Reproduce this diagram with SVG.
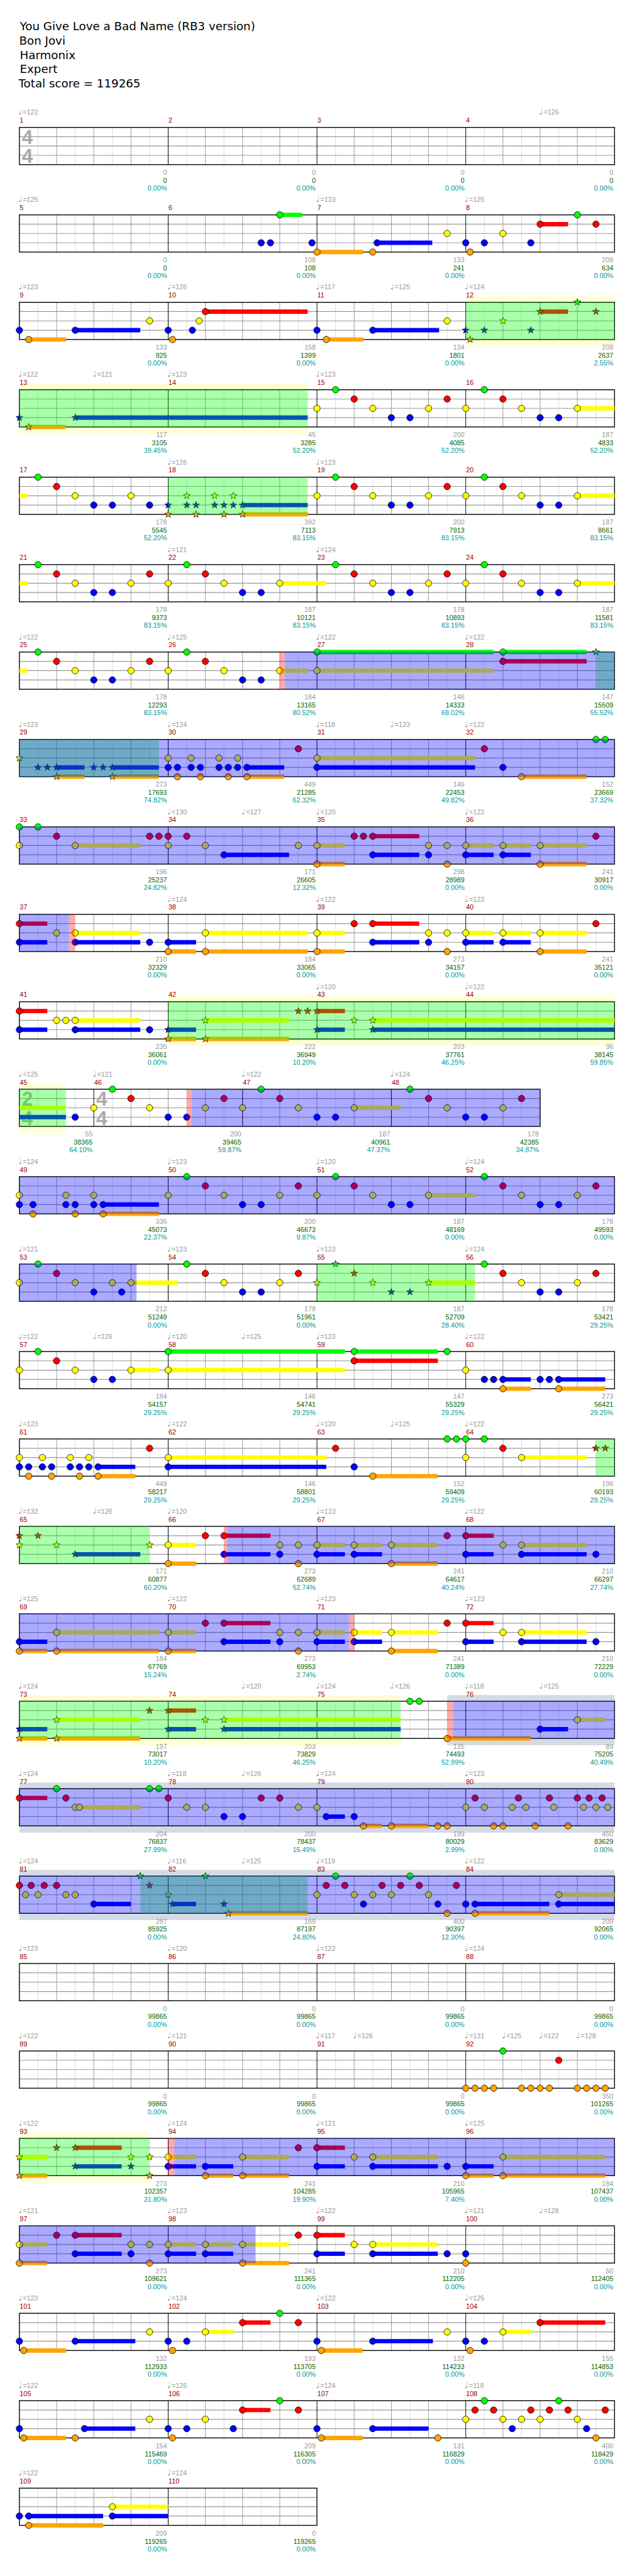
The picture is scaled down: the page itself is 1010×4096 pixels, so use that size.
<svg xmlns="http://www.w3.org/2000/svg" xmlns:xlink="http://www.w3.org/1999/xlink" width="1010" height="4096" viewBox="0 0 1010 4096">
<style>
text{font-family:"Liberation Sans",Arial,"DejaVu Sans",sans-serif;font-size:11px}
.h{font-family:"DejaVu Sans",sans-serif;font-size:18.5px;fill:#000}
.t{fill:#999}
.q{font-family:"DejaVu Sans",sans-serif;font-size:13px}
.n{fill:#900}
.a,.b,.c{text-anchor:end}
.a{fill:#999}.b{fill:#060}.c{fill:#099}
.ts{font-size:32px;font-weight:bold;fill:#aaa}
.vl{stroke:#ddd;stroke-width:1}
.vd{stroke:#999;stroke-width:1}
.hl{stroke:#999;stroke-width:1.2}
.bd{fill:none;stroke:#000;stroke-width:1.4}
.bar{stroke:#000;stroke-width:1}
.s{stroke-width:7;fill:none}
.sG{stroke:#0f0}.sR{stroke:#f00}.sY{stroke:#ff0}.sB{stroke:#00f}.sO{stroke:#ffa500}
.og{fill:#0f0;fill-opacity:.333}
.ob{fill:#00f;fill-opacity:.333}
.op{fill:#f00;fill-opacity:.333}
.yb{fill:#ffffd5}
.gb{fill:#d5dbe6}
</style>
<defs>
<path id="st" d="M0-6L1.41-1.94 5.71-1.85 2.28.74 3.53 4.85 0 2.4-3.53 4.85-2.28.74-5.71-1.85-1.41-1.94Z" stroke="#000" stroke-width=".7"/>
<use id="SG" href="#st" fill="#0f0"/>
<use id="SR" href="#st" y="15" fill="#f00"/>
<use id="SY" href="#st" y="30" fill="#ff0"/>
<use id="SB" href="#st" y="45" fill="#00f"/>
<use id="SO" href="#st" y="60" fill="#ffa500"/>
<circle id="G" r="5.2" fill="#0f0" stroke="#000" stroke-width=".8"/>
<circle id="R" cy="15" r="5.2" fill="#f00" stroke="#000" stroke-width=".8"/>
<circle id="Y" cy="30" r="5.2" fill="#ff0" stroke="#000" stroke-width=".8"/>
<circle id="B" cy="45" r="5.2" fill="#00f" stroke="#000" stroke-width=".8"/>
<circle id="O" cy="60" r="5.2" fill="#ffa500" stroke="#000" stroke-width=".8"/>
<g id="M"><path class="vl" d="M30 0V60M90 0V60M150 0V60M210 0V60"/><path class="vd" d="M60 0V60M120 0V60M180 0V60"/></g>
<g id="H"><path class="vl" d="M30 0V60M90 0V60"/><path class="vd" d="M60 0V60"/></g>
<g id="R4">
<rect width="960" height="60" fill="#fff"/>
<use href="#M"/><use href="#M" x="240"/><use href="#M" x="480"/><use href="#M" x="720"/>
<path class="hl" d="M0 15H960M0 30H960M0 45H960"/>
<path class="bar" d="M240 0V60M480 0V60M720 0V60"/>
<rect class="bd" width="960" height="60"/>
</g>
</defs>
<rect width="1010" height="4096" fill="#fff"/>
<g transform="scale(0.986)">
<g id="header">
<text class="h" x="32" y="49">You Give Love a Bad Name (RB3 version)</text>
<text class="h" x="31" y="72">Bon Jovi</text>
<text class="h" x="32" y="95">Harmonix</text>
<text class="h" x="32" y="118">Expert</text>
<text class="h" x="30" y="141">Total score = 119265</text>
</g>

<g id="row1" transform="translate(31.3,205.5)">
<use href="#R4"/>
<text class="ts" x="4" y="26.5">4</text><text class="ts" x="4" y="57.5">4</text>
<text class="t" x="-2" y="-20.5"><tspan class="q">♩</tspan><tspan x="5.4">=122</tspan></text>
<text class="t" x="838" y="-20.5"><tspan class="q">♩</tspan><tspan x="845.4">=126</tspan></text>
<text class="n" x="0.5" y="-7.5">1</text><text class="n" x="240.5" y="-7.5">2</text><text class="n" x="480.5" y="-7.5">3</text><text class="n" x="720.5" y="-7.5">4</text>
<text class="a" x="238" y="76.5">0</text><text class="b" x="238" y="89.5">0</text><text class="c" x="238" y="102">0.00%</text>
<text class="a" x="478" y="76.5">0</text><text class="b" x="478" y="89.5">0</text><text class="c" x="478" y="102">0.00%</text>
<text class="a" x="718" y="76.5">0</text><text class="b" x="718" y="89.5">0</text><text class="c" x="718" y="102">0.00%</text>
<text class="a" x="958" y="76.5">0</text><text class="b" x="958" y="89.5">0</text><text class="c" x="958" y="102">0.00%</text>
</g>

<g id="row2" transform="translate(31.3,346.5)">
<use href="#R4"/>
<path class="s sG" d="M420 0H456"/><path class="s sO" d="M480 60H555"/><path class="s sB" d="M577 45H666"/><path class="s sR" d="M840 15H885"/>
<use href="#B" x="390"/><use href="#B" x="405"/><use href="#B" x="472"/><use href="#B" x="577"/><use href="#B" x="720"/><use href="#B" x="750"/><use href="#B" x="825"/>
<use href="#G" x="420"/><use href="#G" x="900"/>
<use href="#O" x="480"/><use href="#O" x="570"/><use href="#O" x="727"/>
<use href="#Y" x="690"/><use href="#Y" x="780"/>
<use href="#R" x="840"/><use href="#R" x="930"/>
<text class="t" x="-2" y="-20.5"><tspan class="q">♩</tspan><tspan x="5.4">=125</tspan></text>
<text class="t" x="478" y="-20.5"><tspan class="q">♩</tspan><tspan x="485.4">=123</tspan></text>
<text class="t" x="718" y="-20.5"><tspan class="q">♩</tspan><tspan x="725.4">=125</tspan></text>
<text class="n" x="0.5" y="-7.5">5</text><text class="n" x="240.5" y="-7.5">6</text><text class="n" x="480.5" y="-7.5">7</text><text class="n" x="720.5" y="-7.5">8</text>
<text class="a" x="238" y="76.5">0</text><text class="b" x="238" y="89.5">0</text><text class="c" x="238" y="102">0.00%</text>
<text class="a" x="478" y="76.5">108</text><text class="b" x="478" y="89.5">108</text><text class="c" x="478" y="102">0.00%</text>
<text class="a" x="718" y="76.5">133</text><text class="b" x="718" y="89.5">241</text><text class="c" x="718" y="102">0.00%</text>
<text class="a" x="958" y="76.5">209</text><text class="b" x="958" y="89.5">634</text><text class="c" x="958" y="102">0.00%</text>
</g>

<g id="row3" transform="translate(31.3,487.5)">
<rect class="yb" x="720" y="-10" width="240" height="81"/>
<use href="#R4"/>
<path class="s sO" d="M15 60H75M495 60H555"/><path class="s sB" d="M90 45H195M570 45H677"/><path class="s sR" d="M300 15H465M840 15H885"/>
<use href="#B" x="0"/><use href="#B" x="90"/><use href="#B" x="240"/><use href="#B" x="279"/><use href="#B" x="480"/><use href="#B" x="570"/>
<use href="#O" x="15"/><use href="#O" x="247"/><use href="#O" x="495"/>
<use href="#Y" x="210"/><use href="#Y" x="290"/><use href="#Y" x="690"/>
<use href="#R" x="300"/>
<use href="#SB" x="720"/><use href="#SO" x="727"/><use href="#SB" x="750"/><use href="#SY" x="780"/><use href="#SB" x="825"/><use href="#SR" x="840"/><use href="#SG" x="900"/><use href="#SR" x="930"/>
<rect class="og" x="720" width="240" height="60"/>
<text class="t" x="-2" y="-20.5"><tspan class="q">♩</tspan><tspan x="5.4">=123</tspan></text>
<text class="t" x="238" y="-20.5"><tspan class="q">♩</tspan><tspan x="245.4">=126</tspan></text>
<text class="t" x="478" y="-20.5"><tspan class="q">♩</tspan><tspan x="485.4">=117</tspan></text>
<text class="t" x="598" y="-20.5"><tspan class="q">♩</tspan><tspan x="605.4">=125</tspan></text>
<text class="t" x="718" y="-20.5"><tspan class="q">♩</tspan><tspan x="725.4">=124</tspan></text>
<text class="n" x="0.5" y="-7.5">9</text><text class="n" x="240.5" y="-7.5">10</text><text class="n" x="480.5" y="-7.5">11</text><text class="n" x="720.5" y="-7.5">12</text>
<text class="a" x="238" y="76.5">133</text><text class="b" x="238" y="89.5">925</text><text class="c" x="238" y="102">0.00%</text>
<text class="a" x="478" y="76.5">158</text><text class="b" x="478" y="89.5">1399</text><text class="c" x="478" y="102">0.00%</text>
<text class="a" x="718" y="76.5">134</text><text class="b" x="718" y="89.5">1801</text><text class="c" x="718" y="102">0.00%</text>
<text class="a" x="958" y="76.5">209</text><text class="b" x="958" y="89.5">2637</text><text class="c" x="958" y="102">2.55%</text>
</g>

<g id="row4" transform="translate(31.3,628.5)">
<rect class="yb" x="0" y="-10" width="465" height="81"/>
<use href="#R4"/>
<path class="s sO" d="M15 60H75"/><path class="s sB" d="M90 45H465"/><path class="s sY" d="M900 30H960"/>
<use href="#SB" x="0"/><use href="#SO" x="15"/><use href="#SB" x="90"/>
<use href="#Y" x="480"/><use href="#Y" x="570"/><use href="#Y" x="660"/><use href="#Y" x="720"/><use href="#Y" x="810"/><use href="#Y" x="900"/>
<use href="#G" x="510"/><use href="#G" x="750"/>
<use href="#R" x="540"/><use href="#R" x="690"/><use href="#R" x="780"/>
<use href="#B" x="600"/><use href="#B" x="630"/><use href="#B" x="840"/><use href="#B" x="870"/>
<rect class="og" x="0" width="465" height="60"/>
<text class="t" x="-2" y="-20.5"><tspan class="q">♩</tspan><tspan x="5.4">=122</tspan></text>
<text class="t" x="118" y="-20.5"><tspan class="q">♩</tspan><tspan x="125.4">=121</tspan></text>
<text class="t" x="238" y="-20.5"><tspan class="q">♩</tspan><tspan x="245.4">=123</tspan></text>
<text class="t" x="478" y="-20.5"><tspan class="q">♩</tspan><tspan x="485.4">=123</tspan></text>
<text class="n" x="0.5" y="-7.5">13</text><text class="n" x="240.5" y="-7.5">14</text><text class="n" x="480.5" y="-7.5">15</text><text class="n" x="720.5" y="-7.5">16</text>
<text class="a" x="238" y="76.5">117</text><text class="b" x="238" y="89.5">3105</text><text class="c" x="238" y="102">39.45%</text>
<text class="a" x="478" y="76.5">45</text><text class="b" x="478" y="89.5">3285</text><text class="c" x="478" y="102">52.20%</text>
<text class="a" x="718" y="76.5">200</text><text class="b" x="718" y="89.5">4085</text><text class="c" x="718" y="102">52.20%</text>
<text class="a" x="958" y="76.5">187</text><text class="b" x="958" y="89.5">4833</text><text class="c" x="958" y="102">52.20%</text>
</g>

<g id="row5" transform="translate(31.3,769.5)">
<use href="#R4"/>
<path class="s sY" d="M0 30H13M900 30H960"/><path class="s sB" d="M360 45H465"/><path class="s sO" d="M360 60H465"/>
<use href="#G" x="30"/><use href="#G" x="510"/><use href="#G" x="750"/>
<use href="#R" x="60"/><use href="#R" x="540"/><use href="#R" x="690"/><use href="#R" x="780"/>
<use href="#Y" x="90"/><use href="#Y" x="180"/><use href="#Y" x="480"/><use href="#Y" x="570"/><use href="#Y" x="660"/><use href="#Y" x="720"/><use href="#Y" x="810"/><use href="#Y" x="900"/>
<use href="#B" x="120"/><use href="#B" x="150"/><use href="#B" x="210"/><use href="#B" x="600"/><use href="#B" x="630"/><use href="#B" x="840"/><use href="#B" x="870"/>
<use href="#SB" x="240"/><use href="#SB" x="270"/><use href="#SB" x="285"/><use href="#SB" x="315"/><use href="#SB" x="330"/><use href="#SB" x="345"/><use href="#SB" x="360"/>
<use href="#SO" x="240"/><use href="#SO" x="285"/><use href="#SO" x="330"/><use href="#SO" x="360"/>
<use href="#SY" x="270"/><use href="#SY" x="315"/><use href="#SY" x="345"/>
<rect class="og" x="240" width="225" height="60"/>
<text class="t" x="238" y="-20.5"><tspan class="q">♩</tspan><tspan x="245.4">=126</tspan></text>
<text class="t" x="478" y="-20.5"><tspan class="q">♩</tspan><tspan x="485.4">=123</tspan></text>
<text class="n" x="0.5" y="-7.5">17</text><text class="n" x="240.5" y="-7.5">18</text><text class="n" x="480.5" y="-7.5">19</text><text class="n" x="720.5" y="-7.5">20</text>
<text class="a" x="238" y="76.5">178</text><text class="b" x="238" y="89.5">5545</text><text class="c" x="238" y="102">52.20%</text>
<text class="a" x="478" y="76.5">392</text><text class="b" x="478" y="89.5">7113</text><text class="c" x="478" y="102">83.15%</text>
<text class="a" x="718" y="76.5">200</text><text class="b" x="718" y="89.5">7913</text><text class="c" x="718" y="102">83.15%</text>
<text class="a" x="958" y="76.5">187</text><text class="b" x="958" y="89.5">8661</text><text class="c" x="958" y="102">83.15%</text>
</g>

<g id="row6" transform="translate(31.3,910.5)">
<use href="#R4"/>
<path class="s sY" d="M0 30H13M420 30H495M900 30H960"/>
<use href="#G" x="30"/><use href="#G" x="270"/><use href="#G" x="510"/><use href="#G" x="750"/>
<use href="#R" x="60"/><use href="#R" x="210"/><use href="#R" x="300"/><use href="#R" x="540"/><use href="#R" x="690"/><use href="#R" x="780"/>
<use href="#Y" x="90"/><use href="#Y" x="180"/><use href="#Y" x="240"/><use href="#Y" x="330"/><use href="#Y" x="420"/><use href="#Y" x="570"/><use href="#Y" x="660"/><use href="#Y" x="720"/><use href="#Y" x="810"/><use href="#Y" x="900"/>
<use href="#B" x="120"/><use href="#B" x="150"/><use href="#B" x="360"/><use href="#B" x="390"/><use href="#B" x="600"/><use href="#B" x="630"/><use href="#B" x="840"/><use href="#B" x="870"/>
<text class="t" x="238" y="-20.5"><tspan class="q">♩</tspan><tspan x="245.4">=121</tspan></text>
<text class="t" x="478" y="-20.5"><tspan class="q">♩</tspan><tspan x="485.4">=124</tspan></text>
<text class="n" x="0.5" y="-7.5">21</text><text class="n" x="240.5" y="-7.5">22</text><text class="n" x="480.5" y="-7.5">23</text><text class="n" x="720.5" y="-7.5">24</text>
<text class="a" x="238" y="76.5">178</text><text class="b" x="238" y="89.5">9373</text><text class="c" x="238" y="102">83.15%</text>
<text class="a" x="478" y="76.5">187</text><text class="b" x="478" y="89.5">10121</text><text class="c" x="478" y="102">83.15%</text>
<text class="a" x="718" y="76.5">178</text><text class="b" x="718" y="89.5">10893</text><text class="c" x="718" y="102">83.15%</text>
<text class="a" x="958" y="76.5">187</text><text class="b" x="958" y="89.5">11581</text><text class="c" x="958" y="102">83.15%</text>
</g>

<g id="row7" transform="translate(31.3,1051.5)">
<use href="#R4"/>
<path class="s sY" d="M0 30H13M420 30H465M480 30H765"/><path class="s sG" d="M480 0H765M780 0H915"/><path class="s sR" d="M780 15H915"/>
<use href="#G" x="30"/><use href="#G" x="270"/><use href="#G" x="480"/><use href="#G" x="780"/>
<use href="#R" x="60"/><use href="#R" x="210"/><use href="#R" x="300"/><use href="#R" x="780"/>
<use href="#Y" x="90"/><use href="#Y" x="180"/><use href="#Y" x="240"/><use href="#Y" x="330"/><use href="#Y" x="420"/><use href="#Y" x="480"/>
<use href="#B" x="120"/><use href="#B" x="150"/><use href="#B" x="360"/><use href="#B" x="390"/>
<use href="#SG" x="930"/>
<rect class="op" x="420" width="8" height="60"/><rect class="og" x="930" width="30" height="60"/><rect class="ob" x="428" width="532" height="60"/>
<text class="t" x="-2" y="-20.5"><tspan class="q">♩</tspan><tspan x="5.4">=122</tspan></text>
<text class="t" x="238" y="-20.5"><tspan class="q">♩</tspan><tspan x="245.4">=125</tspan></text>
<text class="t" x="478" y="-20.5"><tspan class="q">♩</tspan><tspan x="485.4">=122</tspan></text>
<text class="t" x="718" y="-20.5"><tspan class="q">♩</tspan><tspan x="725.4">=122</tspan></text>
<text class="n" x="0.5" y="-7.5">25</text><text class="n" x="240.5" y="-7.5">26</text><text class="n" x="480.5" y="-7.5">27</text><text class="n" x="720.5" y="-7.5">28</text>
<text class="a" x="238" y="76.5">178</text><text class="b" x="238" y="89.5">12293</text><text class="c" x="238" y="102">83.15%</text>
<text class="a" x="478" y="76.5">184</text><text class="b" x="478" y="89.5">13165</text><text class="c" x="478" y="102">80.52%</text>
<text class="a" x="718" y="76.5">146</text><text class="b" x="718" y="89.5">14333</text><text class="c" x="718" y="102">68.02%</text>
<text class="a" x="958" y="76.5">147</text><text class="b" x="958" y="89.5">15509</text><text class="c" x="958" y="102">55.52%</text>
</g>

<g id="row8" transform="translate(31.3,1192.5)">
<use href="#R4"/>
<path class="s sB" d="M60 45H105M150 45H225M367 45H427M480 45H735"/><path class="s sO" d="M60 60H105M150 60H225M367 60H427M810 60H915"/><path class="s sY" d="M480 30H735"/>
<use href="#SY" x="0"/><use href="#SB" x="30"/><use href="#SB" x="45"/><use href="#SB" x="60"/><use href="#SB" x="120"/><use href="#SB" x="135"/><use href="#SB" x="150"/><use href="#SO" x="60"/><use href="#SO" x="150"/>
<use href="#Y" x="240"/><use href="#Y" x="277"/><use href="#Y" x="322"/><use href="#Y" x="352"/><use href="#Y" x="480"/>
<use href="#B" x="240"/><use href="#B" x="255"/><use href="#B" x="277"/><use href="#B" x="292"/><use href="#B" x="322"/><use href="#B" x="337"/><use href="#B" x="352"/><use href="#B" x="367"/><use href="#B" x="480"/><use href="#B" x="780"/>
<use href="#O" x="255"/><use href="#O" x="292"/><use href="#O" x="337"/><use href="#O" x="367"/><use href="#O" x="810"/>
<use href="#R" x="450"/><use href="#R" x="750"/>
<use href="#G" x="930"/><use href="#G" x="945"/>
<rect class="og" x="0" width="225" height="60"/><rect class="ob" x="0" width="960" height="60"/>
<text class="t" x="-2" y="-20.5"><tspan class="q">♩</tspan><tspan x="5.4">=123</tspan></text>
<text class="t" x="238" y="-20.5"><tspan class="q">♩</tspan><tspan x="245.4">=124</tspan></text>
<text class="t" x="478" y="-20.5"><tspan class="q">♩</tspan><tspan x="485.4">=118</tspan></text>
<text class="t" x="598" y="-20.5"><tspan class="q">♩</tspan><tspan x="605.4">=123</tspan></text>
<text class="t" x="718" y="-20.5"><tspan class="q">♩</tspan><tspan x="725.4">=122</tspan></text>
<text class="n" x="0.5" y="-7.5">29</text><text class="n" x="240.5" y="-7.5">30</text><text class="n" x="480.5" y="-7.5">31</text><text class="n" x="720.5" y="-7.5">32</text>
<text class="a" x="238" y="76.5">273</text><text class="b" x="238" y="89.5">17693</text><text class="c" x="238" y="102">74.82%</text>
<text class="a" x="478" y="76.5">449</text><text class="b" x="478" y="89.5">21285</text><text class="c" x="478" y="102">62.32%</text>
<text class="a" x="718" y="76.5">146</text><text class="b" x="718" y="89.5">22453</text><text class="c" x="718" y="102">49.82%</text>
<text class="a" x="958" y="76.5">152</text><text class="b" x="958" y="89.5">23669</text><text class="c" x="958" y="102">37.32%</text>
</g>

<g id="row9" transform="translate(31.3,1333.5)">
<use href="#R4"/>
<path class="s sY" d="M90 30H195M480 30H525M720 30H765M780 30H825M840 30H915"/><path class="s sB" d="M330 45H435M570 45H645M720 45H765M780 45H825"/><path class="s sO" d="M480 60H525M840 60H915"/><path class="s sR" d="M570 15H645"/>
<use href="#G" x="0"/><use href="#G" x="30"/>
<use href="#Y" x="0"/><use href="#Y" x="90"/><use href="#Y" x="240"/><use href="#Y" x="300"/><use href="#Y" x="450"/><use href="#Y" x="480"/><use href="#Y" x="660"/><use href="#Y" x="690"/><use href="#Y" x="720"/><use href="#Y" x="780"/><use href="#Y" x="840"/>
<use href="#R" x="60"/><use href="#R" x="210"/><use href="#R" x="225"/><use href="#R" x="240"/><use href="#R" x="270"/><use href="#R" x="540"/><use href="#R" x="555"/><use href="#R" x="570"/><use href="#R" x="930"/>
<use href="#B" x="330"/><use href="#B" x="570"/><use href="#B" x="660"/><use href="#B" x="720"/><use href="#B" x="780"/>
<use href="#O" x="480"/><use href="#O" x="690"/><use href="#O" x="840"/>
<rect class="ob" x="0" width="960" height="60"/>
<text class="t" x="238" y="-20.5"><tspan class="q">♩</tspan><tspan x="245.4">=130</tspan></text>
<text class="t" x="358" y="-20.5"><tspan class="q">♩</tspan><tspan x="365.4">=127</tspan></text>
<text class="t" x="478" y="-20.5"><tspan class="q">♩</tspan><tspan x="485.4">=120</tspan></text>
<text class="t" x="718" y="-20.5"><tspan class="q">♩</tspan><tspan x="725.4">=122</tspan></text>
<text class="n" x="0.5" y="-7.5">33</text><text class="n" x="240.5" y="-7.5">34</text><text class="n" x="480.5" y="-7.5">35</text><text class="n" x="720.5" y="-7.5">36</text>
<text class="a" x="238" y="76.5">196</text><text class="b" x="238" y="89.5">25237</text><text class="c" x="238" y="102">24.82%</text>
<text class="a" x="478" y="76.5">171</text><text class="b" x="478" y="89.5">26605</text><text class="c" x="478" y="102">12.32%</text>
<text class="a" x="718" y="76.5">298</text><text class="b" x="718" y="89.5">28989</text><text class="c" x="718" y="102">0.00%</text>
<text class="a" x="958" y="76.5">241</text><text class="b" x="958" y="89.5">30917</text><text class="c" x="958" y="102">0.00%</text>
</g>

<g id="row10" transform="translate(31.3,1474.5)">
<use href="#R4"/>
<path class="s sR" d="M0 15H45M570 15H645"/><path class="s sB" d="M0 45H45M90 45H195M240 45H285M570 45H645M720 45H765M780 45H825"/><path class="s sY" d="M90 30H195M300 30H465M480 30H525M720 30H765M780 30H825M840 30H915"/><path class="s sO" d="M240 60H285M300 60H465M480 60H525M840 60H915"/>
<use href="#R" x="0"/><use href="#R" x="540"/><use href="#R" x="570"/><use href="#R" x="930"/>
<use href="#B" x="0"/><use href="#B" x="90"/><use href="#B" x="210"/><use href="#B" x="240"/><use href="#B" x="570"/><use href="#B" x="660"/><use href="#B" x="720"/><use href="#B" x="780"/>
<use href="#Y" x="60"/><use href="#Y" x="90"/><use href="#Y" x="300"/><use href="#Y" x="480"/><use href="#Y" x="660"/><use href="#Y" x="690"/><use href="#Y" x="720"/><use href="#Y" x="780"/><use href="#Y" x="840"/>
<use href="#O" x="240"/><use href="#O" x="300"/><use href="#O" x="480"/><use href="#O" x="690"/><use href="#O" x="840"/>
<rect class="ob" x="0" width="80" height="60"/><rect class="op" x="80" width="9.5" height="60"/>
<text class="t" x="238" y="-20.5"><tspan class="q">♩</tspan><tspan x="245.4">=124</tspan></text>
<text class="t" x="478" y="-20.5"><tspan class="q">♩</tspan><tspan x="485.4">=122</tspan></text>
<text class="t" x="718" y="-20.5"><tspan class="q">♩</tspan><tspan x="725.4">=123</tspan></text>
<text class="n" x="0.5" y="-7.5">37</text><text class="n" x="240.5" y="-7.5">38</text><text class="n" x="480.5" y="-7.5">39</text><text class="n" x="720.5" y="-7.5">40</text>
<text class="a" x="238" y="76.5">210</text><text class="b" x="238" y="89.5">32329</text><text class="c" x="238" y="102">0.00%</text>
<text class="a" x="478" y="76.5">184</text><text class="b" x="478" y="89.5">33065</text><text class="c" x="478" y="102">0.00%</text>
<text class="a" x="718" y="76.5">273</text><text class="b" x="718" y="89.5">34157</text><text class="c" x="718" y="102">0.00%</text>
<text class="a" x="958" y="76.5">241</text><text class="b" x="958" y="89.5">35121</text><text class="c" x="958" y="102">0.00%</text>
</g>

<g id="row11" transform="translate(31.3,1615.5)">
<rect class="yb" x="240" y="-10" width="720" height="81"/>
<use href="#R4"/>
<path class="s sR" d="M0 15H45M480 15H525"/><path class="s sB" d="M0 45H45M90 45H195M240 45H285M480 45H525M570 45H960"/><path class="s sY" d="M90 30H195M300 30H435M570 30H960"/><path class="s sO" d="M240 60H285M300 60H435"/>
<use href="#R" x="0"/><use href="#B" x="0"/><use href="#Y" x="60"/><use href="#Y" x="75"/><use href="#Y" x="90"/><use href="#B" x="90"/><use href="#B" x="210"/>
<use href="#SB" x="240"/><use href="#SO" x="240"/><use href="#SY" x="300"/><use href="#SO" x="300"/><use href="#SR" x="450"/><use href="#SR" x="465"/><use href="#SR" x="480"/><use href="#SB" x="480"/><use href="#SY" x="540"/><use href="#SY" x="570"/><use href="#SB" x="570"/>
<rect class="og" x="240" width="720" height="60"/>
<text class="t" x="478" y="-20.5"><tspan class="q">♩</tspan><tspan x="485.4">=120</tspan></text>
<text class="t" x="718" y="-20.5"><tspan class="q">♩</tspan><tspan x="725.4">=122</tspan></text>
<text class="n" x="0.5" y="-7.5">41</text><text class="n" x="240.5" y="-7.5">42</text><text class="n" x="480.5" y="-7.5">43</text><text class="n" x="720.5" y="-7.5">44</text>
<text class="a" x="238" y="76.5">235</text><text class="b" x="238" y="89.5">36061</text><text class="c" x="238" y="102">0.00%</text>
<text class="a" x="478" y="76.5">222</text><text class="b" x="478" y="89.5">36949</text><text class="c" x="478" y="102">10.20%</text>
<text class="a" x="718" y="76.5">203</text><text class="b" x="718" y="89.5">37761</text><text class="c" x="718" y="102">46.25%</text>
<text class="a" x="958" y="76.5">96</text><text class="b" x="958" y="89.5">38145</text><text class="c" x="958" y="102">59.85%</text>
</g>

<g id="row12" transform="translate(31.3,1756.5)">
<rect class="yb" x="0" y="-10" width="75" height="81"/>
<rect width="840" height="60" fill="#fff"/>
<use href="#H"/><use href="#M" x="120"/><use href="#M" x="360"/><use href="#M" x="600"/>
<path class="hl" d="M0 15H840M0 30H840M0 45H840"/>
<path class="bar" d="M120 0V60M360 0V60M600 0V60"/>
<rect class="bd" width="840" height="60"/>
<text class="ts" x="4" y="26.5">2</text><text class="ts" x="4" y="57.5">4</text>
<text class="ts" x="124" y="26.5">4</text><text class="ts" x="124" y="57.5">4</text>
<path class="s sY" d="M0 30H75M540 30H615"/><path class="s sB" d="M0 45H75"/>
<use href="#B" x="90"/><use href="#B" x="240"/><use href="#B" x="270"/><use href="#B" x="480"/><use href="#B" x="510"/><use href="#B" x="720"/><use href="#B" x="750"/>
<use href="#Y" x="120"/><use href="#Y" x="210"/><use href="#Y" x="300"/><use href="#Y" x="360"/><use href="#Y" x="450"/><use href="#Y" x="540"/><use href="#Y" x="690"/><use href="#Y" x="780"/>
<use href="#G" x="150"/><use href="#G" x="390"/><use href="#G" x="630"/>
<use href="#R" x="180"/><use href="#R" x="330"/><use href="#R" x="420"/><use href="#R" x="660"/><use href="#R" x="810"/>
<rect class="og" x="0" width="75" height="60"/><rect class="op" x="270" width="8" height="60"/><rect class="ob" x="278" width="562" height="60"/>
<text class="t" x="-2" y="-20.5"><tspan class="q">♩</tspan><tspan x="5.4">=125</tspan></text>
<text class="t" x="118" y="-20.5"><tspan class="q">♩</tspan><tspan x="125.4">=121</tspan></text>
<text class="t" x="358" y="-20.5"><tspan class="q">♩</tspan><tspan x="365.4">=122</tspan></text>
<text class="t" x="598" y="-20.5"><tspan class="q">♩</tspan><tspan x="605.4">=124</tspan></text>
<text class="n" x="0.5" y="-7.5">45</text><text class="n" x="120.5" y="-7.5">46</text><text class="n" x="360.5" y="-7.5">47</text><text class="n" x="600.5" y="-7.5">48</text>
<text class="a" x="118" y="76.5">55</text><text class="b" x="118" y="89.5">38365</text><text class="c" x="118" y="102">64.10%</text>
<text class="a" x="358" y="76.5">200</text><text class="b" x="358" y="89.5">39465</text><text class="c" x="358" y="102">59.87%</text>
<text class="a" x="598" y="76.5">187</text><text class="b" x="598" y="89.5">40961</text><text class="c" x="598" y="102">47.37%</text>
<text class="a" x="838" y="76.5">178</text><text class="b" x="838" y="89.5">42385</text><text class="c" x="838" y="102">34.87%</text>
</g>

<g id="row13" transform="translate(31.3,1897.5)">
<use href="#R4"/>
<path class="s sB" d="M135 45H225"/><path class="s sO" d="M135 60H225"/><path class="s sY" d="M660 30H735"/>
<use href="#Y" x="0"/><use href="#Y" x="75"/><use href="#Y" x="120"/><use href="#Y" x="240"/><use href="#Y" x="330"/><use href="#Y" x="420"/><use href="#Y" x="480"/><use href="#Y" x="570"/><use href="#Y" x="660"/><use href="#Y" x="810"/><use href="#Y" x="900"/>
<use href="#B" x="0"/><use href="#B" x="22"/><use href="#B" x="75"/><use href="#B" x="90"/><use href="#B" x="120"/><use href="#B" x="135"/><use href="#B" x="360"/><use href="#B" x="390"/><use href="#B" x="600"/><use href="#B" x="630"/><use href="#B" x="840"/><use href="#B" x="870"/>
<use href="#O" x="22"/><use href="#O" x="90"/><use href="#O" x="135"/>
<use href="#G" x="270"/><use href="#G" x="510"/><use href="#G" x="750"/>
<use href="#R" x="300"/><use href="#R" x="450"/><use href="#R" x="540"/><use href="#R" x="780"/><use href="#R" x="930"/>
<rect class="ob" x="0" width="960" height="60"/>
<text class="t" x="-2" y="-20.5"><tspan class="q">♩</tspan><tspan x="5.4">=124</tspan></text>
<text class="t" x="238" y="-20.5"><tspan class="q">♩</tspan><tspan x="245.4">=123</tspan></text>
<text class="t" x="478" y="-20.5"><tspan class="q">♩</tspan><tspan x="485.4">=120</tspan></text>
<text class="t" x="718" y="-20.5"><tspan class="q">♩</tspan><tspan x="725.4">=124</tspan></text>
<text class="n" x="0.5" y="-7.5">49</text><text class="n" x="240.5" y="-7.5">50</text><text class="n" x="480.5" y="-7.5">51</text><text class="n" x="720.5" y="-7.5">52</text>
<text class="a" x="238" y="76.5">336</text><text class="b" x="238" y="89.5">45073</text><text class="c" x="238" y="102">22.37%</text>
<text class="a" x="478" y="76.5">200</text><text class="b" x="478" y="89.5">46673</text><text class="c" x="478" y="102">9.87%</text>
<text class="a" x="718" y="76.5">187</text><text class="b" x="718" y="89.5">48169</text><text class="c" x="718" y="102">0.00%</text>
<text class="a" x="958" y="76.5">178</text><text class="b" x="958" y="89.5">49593</text><text class="c" x="958" y="102">0.00%</text>
</g>

<g id="row14" transform="translate(31.3,2038.5)">
<use href="#R4"/>
<path class="s sY" d="M180 30H255M660 30H735"/>
<use href="#Y" x="0"/><use href="#Y" x="90"/><use href="#Y" x="150"/><use href="#Y" x="180"/><use href="#Y" x="330"/><use href="#Y" x="420"/><use href="#Y" x="810"/><use href="#Y" x="900"/>
<use href="#G" x="30"/><use href="#G" x="270"/><use href="#G" x="750"/>
<use href="#R" x="60"/><use href="#R" x="300"/><use href="#R" x="450"/><use href="#R" x="780"/><use href="#R" x="930"/>
<use href="#B" x="120"/><use href="#B" x="165"/><use href="#B" x="360"/><use href="#B" x="390"/><use href="#B" x="840"/><use href="#B" x="870"/>
<use href="#SY" x="480"/><use href="#SG" x="510"/><use href="#SR" x="540"/><use href="#SY" x="570"/><use href="#SB" x="600"/><use href="#SB" x="630"/><use href="#SY" x="660"/>
<rect class="ob" x="0" width="189" height="60"/><rect class="og" x="480" width="255" height="60"/>
<text class="t" x="-2" y="-20.5"><tspan class="q">♩</tspan><tspan x="5.4">=121</tspan></text>
<text class="t" x="238" y="-20.5"><tspan class="q">♩</tspan><tspan x="245.4">=123</tspan></text>
<text class="t" x="478" y="-20.5"><tspan class="q">♩</tspan><tspan x="485.4">=123</tspan></text>
<text class="t" x="718" y="-20.5"><tspan class="q">♩</tspan><tspan x="725.4">=124</tspan></text>
<text class="n" x="0.5" y="-7.5">53</text><text class="n" x="240.5" y="-7.5">54</text><text class="n" x="480.5" y="-7.5">55</text><text class="n" x="720.5" y="-7.5">56</text>
<text class="a" x="238" y="76.5">212</text><text class="b" x="238" y="89.5">51249</text><text class="c" x="238" y="102">0.00%</text>
<text class="a" x="478" y="76.5">178</text><text class="b" x="478" y="89.5">51961</text><text class="c" x="478" y="102">0.00%</text>
<text class="a" x="718" y="76.5">187</text><text class="b" x="718" y="89.5">52709</text><text class="c" x="718" y="102">28.40%</text>
<text class="a" x="958" y="76.5">178</text><text class="b" x="958" y="89.5">53421</text><text class="c" x="958" y="102">29.25%</text>
</g>

<g id="row15" transform="translate(31.3,2179.5)">
<use href="#R4"/>
<path class="s sY" d="M180 30H225M240 30H525"/><path class="s sG" d="M240 0H525M540 0H675"/><path class="s sR" d="M540 15H675"/><path class="s sB" d="M780 45H825M870 45H945"/><path class="s sO" d="M780 60H825M870 60H945"/>
<use href="#Y" x="0"/><use href="#Y" x="90"/><use href="#Y" x="180"/><use href="#Y" x="240"/><use href="#Y" x="720"/>
<use href="#G" x="30"/><use href="#G" x="240"/><use href="#G" x="540"/><use href="#G" x="690"/>
<use href="#R" x="60"/><use href="#R" x="540"/>
<use href="#B" x="120"/><use href="#B" x="150"/><use href="#B" x="750"/><use href="#B" x="765"/><use href="#B" x="780"/><use href="#B" x="840"/><use href="#B" x="855"/><use href="#B" x="870"/>
<use href="#O" x="780"/><use href="#O" x="870"/>
<text class="t" x="-2" y="-20.5"><tspan class="q">♩</tspan><tspan x="5.4">=122</tspan></text>
<text class="t" x="118" y="-20.5"><tspan class="q">♩</tspan><tspan x="125.4">=126</tspan></text>
<text class="t" x="238" y="-20.5"><tspan class="q">♩</tspan><tspan x="245.4">=120</tspan></text>
<text class="t" x="358" y="-20.5"><tspan class="q">♩</tspan><tspan x="365.4">=125</tspan></text>
<text class="t" x="478" y="-20.5"><tspan class="q">♩</tspan><tspan x="485.4">=123</tspan></text>
<text class="t" x="718" y="-20.5"><tspan class="q">♩</tspan><tspan x="725.4">=122</tspan></text>
<text class="n" x="0.5" y="-7.5">57</text><text class="n" x="240.5" y="-7.5">58</text><text class="n" x="480.5" y="-7.5">59</text><text class="n" x="720.5" y="-7.5">60</text>
<text class="a" x="238" y="76.5">184</text><text class="b" x="238" y="89.5">54157</text><text class="c" x="238" y="102">29.25%</text>
<text class="a" x="478" y="76.5">146</text><text class="b" x="478" y="89.5">54741</text><text class="c" x="478" y="102">29.25%</text>
<text class="a" x="718" y="76.5">147</text><text class="b" x="718" y="89.5">55329</text><text class="c" x="718" y="102">29.25%</text>
<text class="a" x="958" y="76.5">273</text><text class="b" x="958" y="89.5">56421</text><text class="c" x="958" y="102">29.25%</text>
</g>

<g id="row16" transform="translate(31.3,2320.5)">
<use href="#R4"/>
<path class="s sB" d="M127 45H187M240 45H495"/><path class="s sO" d="M127 60H187M570 60H675"/><path class="s sY" d="M240 30H495M810 30H915"/>
<use href="#Y" x="0"/><use href="#Y" x="37"/><use href="#Y" x="82"/><use href="#Y" x="112"/><use href="#Y" x="240"/><use href="#Y" x="720"/><use href="#Y" x="810"/>
<use href="#B" x="0"/><use href="#B" x="15"/><use href="#B" x="37"/><use href="#B" x="52"/><use href="#B" x="82"/><use href="#B" x="97"/><use href="#B" x="112"/><use href="#B" x="127"/><use href="#B" x="240"/><use href="#B" x="540"/>
<use href="#O" x="15"/><use href="#O" x="52"/><use href="#O" x="97"/><use href="#O" x="127"/><use href="#O" x="570"/>
<use href="#R" x="210"/><use href="#R" x="510"/><use href="#R" x="780"/>
<use href="#G" x="690"/><use href="#G" x="705"/><use href="#G" x="720"/><use href="#G" x="750"/>
<use href="#SR" x="930"/><use href="#SR" x="945"/>
<rect class="og" x="930" width="30" height="60"/>
<text class="t" x="-2" y="-20.5"><tspan class="q">♩</tspan><tspan x="5.4">=123</tspan></text>
<text class="t" x="238" y="-20.5"><tspan class="q">♩</tspan><tspan x="245.4">=122</tspan></text>
<text class="t" x="478" y="-20.5"><tspan class="q">♩</tspan><tspan x="485.4">=120</tspan></text>
<text class="t" x="598" y="-20.5"><tspan class="q">♩</tspan><tspan x="605.4">=125</tspan></text>
<text class="t" x="718" y="-20.5"><tspan class="q">♩</tspan><tspan x="725.4">=122</tspan></text>
<text class="n" x="0.5" y="-7.5">61</text><text class="n" x="240.5" y="-7.5">62</text><text class="n" x="480.5" y="-7.5">63</text><text class="n" x="720.5" y="-7.5">64</text>
<text class="a" x="238" y="76.5">449</text><text class="b" x="238" y="89.5">58217</text><text class="c" x="238" y="102">29.25%</text>
<text class="a" x="478" y="76.5">146</text><text class="b" x="478" y="89.5">58801</text><text class="c" x="478" y="102">29.25%</text>
<text class="a" x="718" y="76.5">152</text><text class="b" x="718" y="89.5">59409</text><text class="c" x="718" y="102">29.25%</text>
<text class="a" x="958" y="76.5">196</text><text class="b" x="958" y="89.5">60193</text><text class="c" x="958" y="102">29.25%</text>
</g>

<g id="row17" transform="translate(31.3,2461.5)">
<use href="#R4"/>
<path class="s sB" d="M90 45H195M330 45H405M480 45H525M540 45H585M720 45H765M810 45H915"/><path class="s sY" d="M240 30H285M480 30H525M540 30H585M600 30H675M810 30H915"/><path class="s sO" d="M240 60H285M600 60H675"/><path class="s sR" d="M330 15H405M720 15H765"/>
<use href="#SR" x="0"/><use href="#SY" x="0"/><use href="#SR" x="30"/><use href="#SY" x="60"/><use href="#SB" x="90"/><use href="#SY" x="210"/>
<use href="#Y" x="240"/><use href="#Y" x="420"/><use href="#Y" x="450"/><use href="#Y" x="480"/><use href="#Y" x="540"/><use href="#Y" x="600"/><use href="#Y" x="780"/><use href="#Y" x="810"/>
<use href="#O" x="240"/><use href="#O" x="450"/><use href="#O" x="600"/>
<use href="#R" x="300"/><use href="#R" x="330"/><use href="#R" x="690"/><use href="#R" x="720"/>
<use href="#B" x="330"/><use href="#B" x="420"/><use href="#B" x="480"/><use href="#B" x="540"/><use href="#B" x="720"/><use href="#B" x="810"/><use href="#B" x="930"/>
<rect class="og" x="0" width="210" height="60"/><rect class="op" x="330" width="5" height="60"/><rect class="ob" x="335" width="625" height="60"/>
<text class="t" x="-2" y="-20.5"><tspan class="q">♩</tspan><tspan x="5.4">=132</tspan></text>
<text class="t" x="118" y="-20.5"><tspan class="q">♩</tspan><tspan x="125.4">=126</tspan></text>
<text class="t" x="238" y="-20.5"><tspan class="q">♩</tspan><tspan x="245.4">=120</tspan></text>
<text class="t" x="478" y="-20.5"><tspan class="q">♩</tspan><tspan x="485.4">=123</tspan></text>
<text class="t" x="718" y="-20.5"><tspan class="q">♩</tspan><tspan x="725.4">=122</tspan></text>
<text class="n" x="0.5" y="-7.5">65</text><text class="n" x="240.5" y="-7.5">66</text><text class="n" x="480.5" y="-7.5">67</text><text class="n" x="720.5" y="-7.5">68</text>
<text class="a" x="238" y="76.5">171</text><text class="b" x="238" y="89.5">60877</text><text class="c" x="238" y="102">60.20%</text>
<text class="a" x="478" y="76.5">273</text><text class="b" x="478" y="89.5">62689</text><text class="c" x="478" y="102">52.74%</text>
<text class="a" x="718" y="76.5">241</text><text class="b" x="718" y="89.5">64617</text><text class="c" x="718" y="102">40.24%</text>
<text class="a" x="958" y="76.5">210</text><text class="b" x="958" y="89.5">66297</text><text class="c" x="958" y="102">27.74%</text>
</g>

<g id="row18" transform="translate(31.3,2602.5)">
<use href="#R4"/>
<path class="s sB" d="M0 45H45M330 45H405M480 45H525M540 45H585M720 45H765M810 45H915"/><path class="s sO" d="M0 60H45M60 60H225M240 60H285M600 60H675"/><path class="s sY" d="M60 30H225M240 30H285M480 30H525M540 30H585M600 30H675M810 30H915"/><path class="s sR" d="M330 15H405M720 15H765"/>
<use href="#B" x="0"/><use href="#B" x="330"/><use href="#B" x="420"/><use href="#B" x="480"/><use href="#B" x="540"/><use href="#B" x="720"/><use href="#B" x="810"/><use href="#B" x="930"/>
<use href="#O" x="0"/><use href="#O" x="60"/><use href="#O" x="240"/><use href="#O" x="450"/><use href="#O" x="600"/>
<use href="#Y" x="60"/><use href="#Y" x="240"/><use href="#Y" x="420"/><use href="#Y" x="450"/><use href="#Y" x="480"/><use href="#Y" x="540"/><use href="#Y" x="600"/><use href="#Y" x="780"/><use href="#Y" x="810"/>
<use href="#R" x="300"/><use href="#R" x="330"/><use href="#R" x="690"/><use href="#R" x="720"/>
<rect class="ob" x="0" width="532" height="60"/><rect class="op" x="532" width="8" height="60"/>
<text class="t" x="-2" y="-20.5"><tspan class="q">♩</tspan><tspan x="5.4">=125</tspan></text>
<text class="t" x="238" y="-20.5"><tspan class="q">♩</tspan><tspan x="245.4">=122</tspan></text>
<text class="t" x="478" y="-20.5"><tspan class="q">♩</tspan><tspan x="485.4">=123</tspan></text>
<text class="t" x="718" y="-20.5"><tspan class="q">♩</tspan><tspan x="725.4">=123</tspan></text>
<text class="n" x="0.5" y="-7.5">69</text><text class="n" x="240.5" y="-7.5">70</text><text class="n" x="480.5" y="-7.5">71</text><text class="n" x="720.5" y="-7.5">72</text>
<text class="a" x="238" y="76.5">184</text><text class="b" x="238" y="89.5">67769</text><text class="c" x="238" y="102">15.24%</text>
<text class="a" x="478" y="76.5">273</text><text class="b" x="478" y="89.5">69953</text><text class="c" x="478" y="102">2.74%</text>
<text class="a" x="718" y="76.5">241</text><text class="b" x="718" y="89.5">71389</text><text class="c" x="718" y="102">0.00%</text>
<text class="a" x="958" y="76.5">210</text><text class="b" x="958" y="89.5">72229</text><text class="c" x="958" y="102">0.00%</text>
</g>

<g id="row19" transform="translate(31.3,2743.5)">
<rect class="yb" x="0" y="-10" width="615" height="81"/><rect class="gb" x="690" y="-10" width="270" height="81"/>
<use href="#R4"/>
<path class="s sB" d="M0 45H45M240 45H285M330 45H615M840 45H885"/><path class="s sO" d="M0 60H45M60 60H195M690 60H825"/><path class="s sY" d="M60 30H195M330 30H615M900 30H945"/><path class="s sR" d="M240 15H285"/>
<use href="#SB" x="0"/><use href="#SO" x="0"/><use href="#SY" x="60"/><use href="#SO" x="60"/><use href="#SR" x="210"/><use href="#SR" x="240"/><use href="#SB" x="240"/><use href="#SY" x="300"/><use href="#SY" x="330"/><use href="#SB" x="330"/>
<use href="#G" x="630"/><use href="#G" x="645"/><use href="#O" x="690"/><use href="#B" x="840"/><use href="#Y" x="900"/>
<rect class="og" x="0" width="615" height="60"/><rect class="op" x="690" width="10" height="60"/><rect class="ob" x="700" width="260" height="60"/>
<text class="t" x="-2" y="-20.5"><tspan class="q">♩</tspan><tspan x="5.4">=124</tspan></text>
<text class="t" x="358" y="-20.5"><tspan class="q">♩</tspan><tspan x="365.4">=120</tspan></text>
<text class="t" x="478" y="-20.5"><tspan class="q">♩</tspan><tspan x="485.4">=124</tspan></text>
<text class="t" x="598" y="-20.5"><tspan class="q">♩</tspan><tspan x="605.4">=126</tspan></text>
<text class="t" x="718" y="-20.5"><tspan class="q">♩</tspan><tspan x="725.4">=118</tspan></text>
<text class="t" x="838" y="-20.5"><tspan class="q">♩</tspan><tspan x="845.4">=125</tspan></text>
<text class="n" x="0.5" y="-7.5">73</text><text class="n" x="240.5" y="-7.5">74</text><text class="n" x="480.5" y="-7.5">75</text><text class="n" x="720.5" y="-7.5">76</text>
<text class="a" x="238" y="76.5">197</text><text class="b" x="238" y="89.5">73017</text><text class="c" x="238" y="102">10.20%</text>
<text class="a" x="478" y="76.5">203</text><text class="b" x="478" y="89.5">73829</text><text class="c" x="478" y="102">46.25%</text>
<text class="a" x="718" y="76.5">135</text><text class="b" x="718" y="89.5">74493</text><text class="c" x="718" y="102">52.99%</text>
<text class="a" x="958" y="76.5">89</text><text class="b" x="958" y="89.5">75205</text><text class="c" x="958" y="102">40.49%</text>
</g>

<g id="row20" transform="translate(31.3,2884.5)">
<rect class="gb" x="0" y="-10" width="960" height="81"/>
<use href="#R4"/>
<path class="s sR" d="M0 15H45"/><path class="s sY" d="M97 30H195"/><path class="s sB" d="M495 45H525"/><path class="s sO" d="M555 60H585M600 60H660"/>
<use href="#R" x="0"/><use href="#R" x="75"/><use href="#R" x="240"/><use href="#R" x="390"/><use href="#R" x="420"/><use href="#R" x="735"/><use href="#R" x="805"/><use href="#R" x="855"/><use href="#R" x="900"/><use href="#R" x="919"/><use href="#R" x="940"/>
<use href="#G" x="60"/><use href="#G" x="210"/><use href="#G" x="225"/>
<use href="#Y" x="90"/><use href="#Y" x="97"/><use href="#Y" x="270"/><use href="#Y" x="300"/><use href="#Y" x="450"/><use href="#Y" x="480"/><use href="#Y" x="720"/><use href="#Y" x="750"/><use href="#Y" x="795"/><use href="#Y" x="817"/><use href="#Y" x="862"/><use href="#Y" x="910"/><use href="#Y" x="930"/><use href="#Y" x="949"/>
<use href="#B" x="330"/><use href="#B" x="360"/><use href="#B" x="495"/><use href="#B" x="540"/>
<use href="#O" x="555"/><use href="#O" x="600"/><use href="#O" x="675"/><use href="#O" x="690"/><use href="#O" x="765"/><use href="#O" x="780"/><use href="#O" x="832"/><use href="#O" x="885"/>
<rect class="ob" x="0" width="960" height="60"/>
<text class="t" x="-2" y="-20.5"><tspan class="q">♩</tspan><tspan x="5.4">=124</tspan></text>
<text class="t" x="238" y="-20.5"><tspan class="q">♩</tspan><tspan x="245.4">=118</tspan></text>
<text class="t" x="358" y="-20.5"><tspan class="q">♩</tspan><tspan x="365.4">=126</tspan></text>
<text class="t" x="478" y="-20.5"><tspan class="q">♩</tspan><tspan x="485.4">=124</tspan></text>
<text class="t" x="718" y="-20.5"><tspan class="q">♩</tspan><tspan x="725.4">=123</tspan></text>
<text class="n" x="0.5" y="-7.5">77</text><text class="n" x="240.5" y="-7.5">78</text><text class="n" x="480.5" y="-7.5">79</text><text class="n" x="720.5" y="-7.5">80</text>
<text class="a" x="238" y="76.5">204</text><text class="b" x="238" y="89.5">76837</text><text class="c" x="238" y="102">27.99%</text>
<text class="a" x="478" y="76.5">200</text><text class="b" x="478" y="89.5">78437</text><text class="c" x="478" y="102">15.49%</text>
<text class="a" x="718" y="76.5">199</text><text class="b" x="718" y="89.5">80029</text><text class="c" x="718" y="102">2.99%</text>
<text class="a" x="958" y="76.5">450</text><text class="b" x="958" y="89.5">83629</text><text class="c" x="958" y="102">0.00%</text>
</g>

<g id="row21" transform="translate(31.3,3025.5)">
<rect class="gb" x="0" y="-10" width="960" height="81"/>
<use href="#R4"/>
<path class="s sB" d="M120 45H180M247 45H285M735 45H855M870 45H960"/><path class="s sO" d="M337 60H465M735 60H855"/><path class="s sY" d="M870 30H960"/>
<use href="#R" x="0"/><use href="#R" x="19"/><use href="#R" x="40"/><use href="#R" x="60"/><use href="#R" x="495"/><use href="#R" x="525"/><use href="#R" x="585"/><use href="#R" x="615"/><use href="#R" x="645"/><use href="#R" x="705"/>
<use href="#Y" x="10"/><use href="#Y" x="30"/><use href="#Y" x="75"/><use href="#Y" x="90"/><use href="#Y" x="480"/><use href="#Y" x="540"/><use href="#Y" x="570"/><use href="#Y" x="600"/><use href="#Y" x="660"/><use href="#Y" x="870"/>
<use href="#B" x="120"/><use href="#B" x="555"/><use href="#B" x="675"/><use href="#B" x="720"/><use href="#B" x="735"/><use href="#B" x="870"/>
<use href="#G" x="510"/><use href="#G" x="630"/>
<use href="#O" x="690"/><use href="#O" x="735"/>
<use href="#SG" x="195"/><use href="#SR" x="210"/><use href="#SY" x="240"/><use href="#SB" x="247"/><use href="#SG" x="300"/><use href="#SB" x="330"/><use href="#SO" x="337"/>
<rect class="og" x="195" width="270" height="60"/><rect class="ob" x="0" width="960" height="60"/>
<text class="t" x="-2" y="-20.5"><tspan class="q">♩</tspan><tspan x="5.4">=124</tspan></text>
<text class="t" x="238" y="-20.5"><tspan class="q">♩</tspan><tspan x="245.4">=116</tspan></text>
<text class="t" x="358" y="-20.5"><tspan class="q">♩</tspan><tspan x="365.4">=125</tspan></text>
<text class="t" x="478" y="-20.5"><tspan class="q">♩</tspan><tspan x="485.4">=119</tspan></text>
<text class="t" x="718" y="-20.5"><tspan class="q">♩</tspan><tspan x="725.4">=122</tspan></text>
<text class="n" x="0.5" y="-7.5">81</text><text class="n" x="240.5" y="-7.5">82</text><text class="n" x="480.5" y="-7.5">83</text><text class="n" x="720.5" y="-7.5">84</text>
<text class="a" x="238" y="76.5">287</text><text class="b" x="238" y="89.5">85925</text><text class="c" x="238" y="102">0.00%</text>
<text class="a" x="478" y="76.5">159</text><text class="b" x="478" y="89.5">87197</text><text class="c" x="478" y="102">24.80%</text>
<text class="a" x="718" y="76.5">400</text><text class="b" x="718" y="89.5">90397</text><text class="c" x="718" y="102">12.30%</text>
<text class="a" x="958" y="76.5">209</text><text class="b" x="958" y="89.5">92065</text><text class="c" x="958" y="102">0.00%</text>
</g>

<g id="row22" transform="translate(31.3,3166.5)">
<use href="#R4"/>
<text class="t" x="-2" y="-20.5"><tspan class="q">♩</tspan><tspan x="5.4">=123</tspan></text>
<text class="t" x="238" y="-20.5"><tspan class="q">♩</tspan><tspan x="245.4">=120</tspan></text>
<text class="t" x="478" y="-20.5"><tspan class="q">♩</tspan><tspan x="485.4">=122</tspan></text>
<text class="t" x="718" y="-20.5"><tspan class="q">♩</tspan><tspan x="725.4">=124</tspan></text>
<text class="n" x="0.5" y="-7.5">85</text><text class="n" x="240.5" y="-7.5">86</text><text class="n" x="480.5" y="-7.5">87</text><text class="n" x="720.5" y="-7.5">88</text>
<text class="a" x="238" y="76.5">0</text><text class="b" x="238" y="89.5">99865</text><text class="c" x="238" y="102">0.00%</text>
<text class="a" x="478" y="76.5">0</text><text class="b" x="478" y="89.5">99865</text><text class="c" x="478" y="102">0.00%</text>
<text class="a" x="718" y="76.5">0</text><text class="b" x="718" y="89.5">99865</text><text class="c" x="718" y="102">0.00%</text>
<text class="a" x="958" y="76.5">0</text><text class="b" x="958" y="89.5">99865</text><text class="c" x="958" y="102">0.00%</text>
</g>

<g id="row23" transform="translate(31.3,3307.5)">
<use href="#R4"/>
<use href="#O" x="720"/><use href="#O" x="735"/><use href="#O" x="750"/><use href="#O" x="765"/><use href="#O" x="810"/><use href="#O" x="825"/><use href="#O" x="840"/><use href="#O" x="855"/><use href="#O" x="900"/><use href="#O" x="915"/><use href="#O" x="930"/><use href="#O" x="945"/>
<use href="#G" x="780"/><use href="#R" x="870"/>
<text class="t" x="-2" y="-20.5"><tspan class="q">♩</tspan><tspan x="5.4">=122</tspan></text>
<text class="t" x="238" y="-20.5"><tspan class="q">♩</tspan><tspan x="245.4">=121</tspan></text>
<text class="t" x="478" y="-20.5"><tspan class="q">♩</tspan><tspan x="485.4">=117</tspan></text>
<text class="t" x="538" y="-20.5"><tspan class="q">♩</tspan><tspan x="545.4">=126</tspan></text>
<text class="t" x="718" y="-20.5"><tspan class="q">♩</tspan><tspan x="725.4">=131</tspan></text>
<text class="t" x="778" y="-20.5"><tspan class="q">♩</tspan><tspan x="785.4">=125</tspan></text>
<text class="t" x="838" y="-20.5"><tspan class="q">♩</tspan><tspan x="845.4">=122</tspan></text>
<text class="t" x="898" y="-20.5"><tspan class="q">♩</tspan><tspan x="905.4">=128</tspan></text>
<text class="n" x="0.5" y="-7.5">89</text><text class="n" x="240.5" y="-7.5">90</text><text class="n" x="480.5" y="-7.5">91</text><text class="n" x="720.5" y="-7.5">92</text>
<text class="a" x="238" y="76.5">0</text><text class="b" x="238" y="89.5">99865</text><text class="c" x="238" y="102">0.00%</text>
<text class="a" x="478" y="76.5">0</text><text class="b" x="478" y="89.5">99865</text><text class="c" x="478" y="102">0.00%</text>
<text class="a" x="718" y="76.5">0</text><text class="b" x="718" y="89.5">99865</text><text class="c" x="718" y="102">0.00%</text>
<text class="a" x="958" y="76.5">350</text><text class="b" x="958" y="89.5">101265</text><text class="c" x="958" y="102">0.00%</text>
</g>

<g id="row24" transform="translate(31.3,3448.5)">
<rect class="yb" x="0" y="-10" width="210" height="81"/>
<use href="#R4"/>
<path class="s sY" d="M0 30H45M240 30H285M360 30H435M570 30H675M780 30H945"/><path class="s sO" d="M0 60H45M300 60H345M360 60H435M720 60H765M780 60H945"/><path class="s sR" d="M90 15H165M480 15H525"/><path class="s sB" d="M90 45H165M240 45H285M300 45H345M480 45H525M570 45H675M720 45H765"/>
<use href="#SY" x="0"/><use href="#SO" x="0"/><use href="#SR" x="60"/><use href="#SR" x="90"/><use href="#SB" x="90"/><use href="#SY" x="180"/><use href="#SB" x="180"/><use href="#SY" x="210"/><use href="#SO" x="210"/>
<use href="#Y" x="240"/><use href="#Y" x="360"/><use href="#Y" x="540"/><use href="#Y" x="570"/><use href="#Y" x="780"/>
<use href="#B" x="240"/><use href="#B" x="300"/><use href="#B" x="480"/><use href="#B" x="570"/><use href="#B" x="690"/><use href="#B" x="720"/>
<use href="#O" x="300"/><use href="#O" x="360"/><use href="#O" x="720"/><use href="#O" x="780"/>
<use href="#R" x="450"/><use href="#R" x="480"/>
<rect class="og" x="0" width="210" height="60"/><rect class="op" x="240" width="10" height="60"/><rect class="ob" x="250" width="710" height="60"/>
<text class="t" x="-2" y="-20.5"><tspan class="q">♩</tspan><tspan x="5.4">=122</tspan></text>
<text class="t" x="238" y="-20.5"><tspan class="q">♩</tspan><tspan x="245.4">=124</tspan></text>
<text class="t" x="478" y="-20.5"><tspan class="q">♩</tspan><tspan x="485.4">=121</tspan></text>
<text class="t" x="718" y="-20.5"><tspan class="q">♩</tspan><tspan x="725.4">=125</tspan></text>
<text class="n" x="0.5" y="-7.5">93</text><text class="n" x="240.5" y="-7.5">94</text><text class="n" x="480.5" y="-7.5">95</text><text class="n" x="720.5" y="-7.5">96</text>
<text class="a" x="238" y="76.5">273</text><text class="b" x="238" y="89.5">102357</text><text class="c" x="238" y="102">31.80%</text>
<text class="a" x="478" y="76.5">241</text><text class="b" x="478" y="89.5">104285</text><text class="c" x="478" y="102">19.90%</text>
<text class="a" x="718" y="76.5">210</text><text class="b" x="718" y="89.5">105965</text><text class="c" x="718" y="102">7.40%</text>
<text class="a" x="958" y="76.5">184</text><text class="b" x="958" y="89.5">107437</text><text class="c" x="958" y="102">0.00%</text>
</g>

<g id="row25" transform="translate(31.3,3589.5)">
<use href="#R4"/>
<path class="s sY" d="M0 30H45M240 30H285M300 30H345M360 30H435M570 30H675"/><path class="s sO" d="M0 60H45M360 60H435"/><path class="s sR" d="M90 15H165M480 15H525"/><path class="s sB" d="M90 45H165M240 45H285M300 45H345M480 45H525M570 45H675"/>
<use href="#Y" x="0"/><use href="#Y" x="180"/><use href="#Y" x="210"/><use href="#Y" x="240"/><use href="#Y" x="300"/><use href="#Y" x="360"/><use href="#Y" x="540"/><use href="#Y" x="570"/>
<use href="#O" x="0"/><use href="#O" x="210"/><use href="#O" x="360"/><use href="#O" x="720"/>
<use href="#R" x="60"/><use href="#R" x="90"/><use href="#R" x="450"/><use href="#R" x="480"/>
<use href="#B" x="90"/><use href="#B" x="180"/><use href="#B" x="240"/><use href="#B" x="300"/><use href="#B" x="480"/><use href="#B" x="570"/><use href="#B" x="690"/><use href="#B" x="720"/>
<rect class="ob" x="0" width="381" height="60"/>
<text class="t" x="-2" y="-20.5"><tspan class="q">♩</tspan><tspan x="5.4">=121</tspan></text>
<text class="t" x="238" y="-20.5"><tspan class="q">♩</tspan><tspan x="245.4">=123</tspan></text>
<text class="t" x="478" y="-20.5"><tspan class="q">♩</tspan><tspan x="485.4">=122</tspan></text>
<text class="t" x="718" y="-20.5"><tspan class="q">♩</tspan><tspan x="725.4">=121</tspan></text>
<text class="t" x="838" y="-20.5"><tspan class="q">♩</tspan><tspan x="845.4">=128</tspan></text>
<text class="n" x="0.5" y="-7.5">97</text><text class="n" x="240.5" y="-7.5">98</text><text class="n" x="480.5" y="-7.5">99</text><text class="n" x="720.5" y="-7.5">100</text>
<text class="a" x="238" y="76.5">273</text><text class="b" x="238" y="89.5">109621</text><text class="c" x="238" y="102">0.00%</text>
<text class="a" x="478" y="76.5">241</text><text class="b" x="478" y="89.5">111365</text><text class="c" x="478" y="102">0.00%</text>
<text class="a" x="718" y="76.5">210</text><text class="b" x="718" y="89.5">112205</text><text class="c" x="718" y="102">0.00%</text>
<text class="a" x="958" y="76.5">50</text><text class="b" x="958" y="89.5">112405</text><text class="c" x="958" y="102">0.00%</text>
</g>

<g id="row26" transform="translate(31.3,3730.5)">
<use href="#R4"/>
<path class="s sO" d="M7 60H75M487 60H554"/><path class="s sB" d="M90 45H187M570 45H667"/><path class="s sY" d="M300 30H345M780 30H825"/><path class="s sR" d="M360 15H405M840 15H945"/>
<use href="#B" x="0"/><use href="#B" x="90"/><use href="#B" x="240"/><use href="#B" x="270"/><use href="#B" x="480"/><use href="#B" x="570"/><use href="#B" x="720"/><use href="#B" x="750"/>
<use href="#O" x="7"/><use href="#O" x="247"/><use href="#O" x="487"/><use href="#O" x="727"/>
<use href="#Y" x="210"/><use href="#Y" x="300"/><use href="#Y" x="690"/><use href="#Y" x="780"/>
<use href="#R" x="360"/><use href="#R" x="450"/><use href="#R" x="840"/><use href="#G" x="420"/>
<text class="t" x="-2" y="-20.5"><tspan class="q">♩</tspan><tspan x="5.4">=123</tspan></text>
<text class="t" x="238" y="-20.5"><tspan class="q">♩</tspan><tspan x="245.4">=124</tspan></text>
<text class="t" x="478" y="-20.5"><tspan class="q">♩</tspan><tspan x="485.4">=122</tspan></text>
<text class="t" x="718" y="-20.5"><tspan class="q">♩</tspan><tspan x="725.4">=125</tspan></text>
<text class="n" x="0.5" y="-7.5">101</text><text class="n" x="240.5" y="-7.5">102</text><text class="n" x="480.5" y="-7.5">103</text><text class="n" x="720.5" y="-7.5">104</text>
<text class="a" x="238" y="76.5">132</text><text class="b" x="238" y="89.5">112933</text><text class="c" x="238" y="102">0.00%</text>
<text class="a" x="478" y="76.5">193</text><text class="b" x="478" y="89.5">113705</text><text class="c" x="478" y="102">0.00%</text>
<text class="a" x="718" y="76.5">132</text><text class="b" x="718" y="89.5">114233</text><text class="c" x="718" y="102">0.00%</text>
<text class="a" x="958" y="76.5">155</text><text class="b" x="958" y="89.5">114853</text><text class="c" x="958" y="102">0.00%</text>
</g>

<g id="row27" transform="translate(31.3,3871.5)">
<use href="#R4"/>
<path class="s sO" d="M7 60H75M487 60H554"/><path class="s sB" d="M105 45H187M570 45H660"/><path class="s sR" d="M360 15H405"/>
<use href="#B" x="0"/><use href="#B" x="105"/><use href="#B" x="240"/><use href="#B" x="270"/><use href="#B" x="345"/><use href="#B" x="480"/><use href="#B" x="570"/><use href="#B" x="795"/><use href="#B" x="915"/>
<use href="#O" x="7"/><use href="#O" x="90"/><use href="#O" x="247"/><use href="#O" x="487"/><use href="#O" x="675"/><use href="#O" x="930"/>
<use href="#Y" x="210"/><use href="#Y" x="300"/><use href="#Y" x="720"/><use href="#Y" x="780"/><use href="#Y" x="810"/><use href="#Y" x="840"/><use href="#Y" x="900"/>
<use href="#R" x="360"/><use href="#R" x="450"/><use href="#R" x="735"/><use href="#R" x="765"/><use href="#R" x="825"/><use href="#R" x="855"/><use href="#R" x="885"/><use href="#R" x="945"/>
<use href="#G" x="420"/><use href="#G" x="750"/><use href="#G" x="870"/>
<text class="t" x="-2" y="-20.5"><tspan class="q">♩</tspan><tspan x="5.4">=122</tspan></text>
<text class="t" x="238" y="-20.5"><tspan class="q">♩</tspan><tspan x="245.4">=126</tspan></text>
<text class="t" x="478" y="-20.5"><tspan class="q">♩</tspan><tspan x="485.4">=124</tspan></text>
<text class="t" x="718" y="-20.5"><tspan class="q">♩</tspan><tspan x="725.4">=118</tspan></text>
<text class="n" x="0.5" y="-7.5">105</text><text class="n" x="240.5" y="-7.5">106</text><text class="n" x="480.5" y="-7.5">107</text><text class="n" x="720.5" y="-7.5">108</text>
<text class="a" x="238" y="76.5">154</text><text class="b" x="238" y="89.5">115469</text><text class="c" x="238" y="102">0.00%</text>
<text class="a" x="478" y="76.5">209</text><text class="b" x="478" y="89.5">116305</text><text class="c" x="478" y="102">0.00%</text>
<text class="a" x="718" y="76.5">131</text><text class="b" x="718" y="89.5">116829</text><text class="c" x="718" y="102">0.00%</text>
<text class="a" x="958" y="76.5">400</text><text class="b" x="958" y="89.5">118429</text><text class="c" x="958" y="102">0.00%</text>
</g>

<g id="row28" transform="translate(31.3,4012.5)">
<rect width="480" height="60" fill="#fff"/>
<use href="#M"/><use href="#M" x="240"/>
<path class="hl" d="M0 15H480M0 30H480M0 45H480"/>
<path class="bar" d="M240 0V60"/>
<rect class="bd" width="480" height="60"/>
<path class="s sB" d="M15 45H135M150 45H240"/><path class="s sO" d="M15 60H135"/><path class="s sY" d="M150 30H240"/>
<use href="#B" x="0"/><use href="#B" x="15"/><use href="#O" x="15"/><use href="#Y" x="150"/><use href="#B" x="150"/>
<text class="t" x="-2" y="-20.5"><tspan class="q">♩</tspan><tspan x="5.4">=122</tspan></text>
<text class="t" x="238" y="-20.5"><tspan class="q">♩</tspan><tspan x="245.4">=124</tspan></text>
<text class="n" x="0.5" y="-7.5">109</text><text class="n" x="240.5" y="-7.5">110</text>
<text class="a" x="238" y="76.5">209</text><text class="b" x="238" y="89.5">119265</text><text class="c" x="238" y="102">0.00%</text>
<text class="a" x="478" y="76.5">0</text><text class="b" x="478" y="89.5">119265</text><text class="c" x="478" y="102">0.00%</text>
</g>
</g>
</svg>
